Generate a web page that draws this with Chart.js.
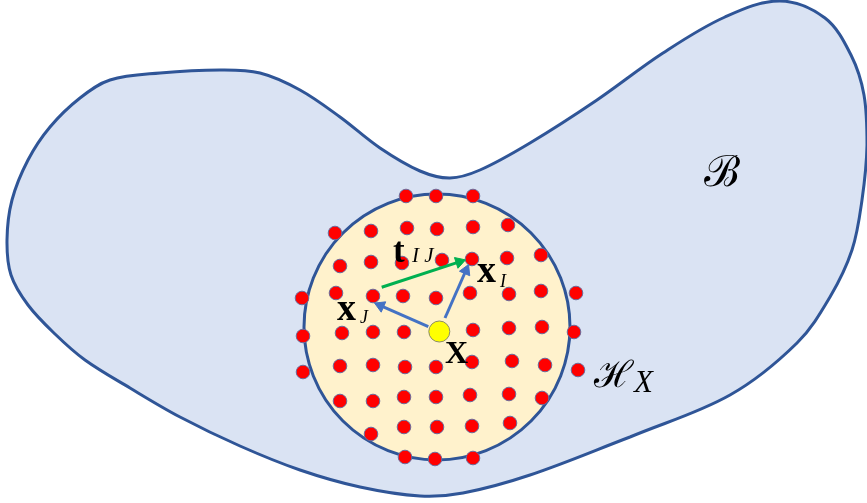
<!DOCTYPE html>
<html><head><meta charset="utf-8">
<script src="https://cdn.jsdelivr.net/npm/chart.js@4/dist/chart.umd.min.js"></script>
<style>html,body{margin:0;padding:0;background:#fff;overflow:hidden}canvas{display:block}</style>
</head><body>
<canvas id="c" width="867" height="503"></canvas>
<script>
// Body outline B (closed)
const blobX = [630, 530, 463, 420, 360, 300, 240, 180, 130, 85, 55, 28, 11, 7, 12, 28, 50, 80, 110, 160, 220, 260, 300, 340, 380, 420, 450, 480, 530, 597, 663, 725, 780, 825, 851, 864, 867, 862, 852, 830, 797, 730, 630];
const blobY = [437, 475, 493, 496, 487, 470, 446, 417, 388, 360, 334, 305, 275, 240, 200, 160, 127, 98, 80, 73, 70, 73, 90, 117, 148, 171, 178, 170, 143, 100, 53, 17, 1, 18, 55, 95, 145, 200, 250, 297, 343, 395, 437];
// Horizon H_X centre
const horizonX = [437];
const horizonY = [327];
// Neighbour nodes (red)
const nodeX = [406,436,473, 335,371,407,437,473,508, 340,371,402,442,472,507,541, 302,336,373,403,436,470,509,541,576, 303,342,373,404,473,509,542,574, 303,340,373,405,436,472,512,545,578, 340,373,404,436,470,509,542, 371,404,437,472,510, 405,435,473];
const nodeY = [196,196,196, 233,231,228,229,227,225, 266,262,263,260,259,258,255, 298,293,296,296,298,293,294,291,293, 336,333,332,332,330,328,327,332, 372,366,365,367,367,362,361,365,370, 401,401,397,397,395,394,398, 434,427,427,426,423, 457,459,458];
// Material point X (yellow)
const pointX = [439.3];
const pointY = [331.5];
// Arrows: tail -> head
const arrowFromX = [428.3, 445, 381.7];
const arrowFromY = [326.7, 318, 287.3];
const arrowToX = [380.5, 465.9, 459.3];
const arrowToY = [305.7, 270.5, 261.9];
// Labels (text runs)
const labelRuns = ['ℬ', 'ℋ', 'X', 't', 'I J', 'x', 'I', 'x', 'J', 'X'];

const zip = (xs, ys) => xs.map((v, i) => ({x: v, y: ys[i]}));

const arrowColors = ['#4472C4', '#4472C4', '#00B050'];
const runStyle = [
  {x: 704, y: 186, font: '43px "DejaVu Serif"'},
  {x: 594, y: 387, font: '37px "DejaVu Serif"'},
  {x: 634, y: 392, font: 'italic 31px "Liberation Serif"'},
  {x: 393, y: 262, font: 'bold 35px "Liberation Serif"'},
  {x: 412, y: 262, font: 'italic 21px "Liberation Serif"'},
  {x: 477, y: 282, font: 'bold 38px "Liberation Serif"'},
  {x: 500, y: 287, font: 'italic 18px "Liberation Serif"'},
  {x: 337, y: 320, font: 'bold 38px "Liberation Serif"'},
  {x: 360, y: 323, font: 'italic 18px "Liberation Serif"'},
  {x: 445, y: 363, font: 'bold 32px "Liberation Serif"'}
];

const arrowDatasets = arrowFromX.map((fx, i) => {
  const dx = arrowToX[i] - fx, dy = arrowToY[i] - arrowFromY[i];
  const rot = Math.atan2(dx, -dy) * 180 / Math.PI;
  return {
    data: [{x: fx, y: arrowFromY[i]}, {x: arrowToX[i], y: arrowToY[i]}],
    showLine: true, borderColor: arrowColors[i], borderWidth: 3,
    pointRadius: [0, 6.5], pointStyle: 'triangle', pointRotation: [0, rot],
    pointBackgroundColor: arrowColors[i], pointBorderColor: arrowColors[i], pointBorderWidth: 1,
    order: 4, clip: false
  };
});

const labelPlugin = {
  id: 'labels',
  afterDatasetsDraw(chart) {
    const {ctx, scales} = chart;
    ctx.save();
    ctx.fillStyle = '#000';
    ctx.textBaseline = 'alphabetic';
    ctx.textAlign = 'left';
    labelRuns.forEach((t, i) => {
      const s = runStyle[i];
      ctx.font = s.font;
      ctx.fillText(t, scales.x.getPixelForValue(s.x), scales.y.getPixelForValue(s.y));
    });
    ctx.restore();
  }
};

new Chart(document.getElementById('c'), {
  type: 'scatter',
  data: {
    datasets: [
      {data: zip(blobX, blobY), showLine: true, fill: 'shape', backgroundColor: '#DAE3F3',
       borderColor: '#2F5597', borderWidth: 3, tension: 0.35, pointRadius: 0, order: 10, clip: false},
      {data: zip(horizonX, horizonY), pointRadius: 133, backgroundColor: '#FFF2CC',
       borderColor: '#2F5597', borderWidth: 3, order: 9, clip: false},
      {data: zip(nodeX, nodeY), pointRadius: 6.8, backgroundColor: '#FF0000',
       borderColor: '#6B6B9B', borderWidth: 1, order: 6, clip: false},
      ...arrowDatasets,
      {data: zip(pointX, pointY), pointRadius: 10.5, backgroundColor: '#FFFF00',
       borderColor: '#8C8C64', borderWidth: 1, order: 2, clip: false}
    ]
  },
  options: {
    responsive: false, animation: false, events: [],
    layout: {padding: 0, autoPadding: false},
    plugins: {legend: {display: false}, tooltip: {enabled: false}},
    scales: {
      x: {type: 'linear', min: 0, max: 867, display: false},
      y: {type: 'linear', min: 0, max: 503, reverse: true, display: false}
    }
  },
  plugins: [labelPlugin]
});
</script>
</body></html>
